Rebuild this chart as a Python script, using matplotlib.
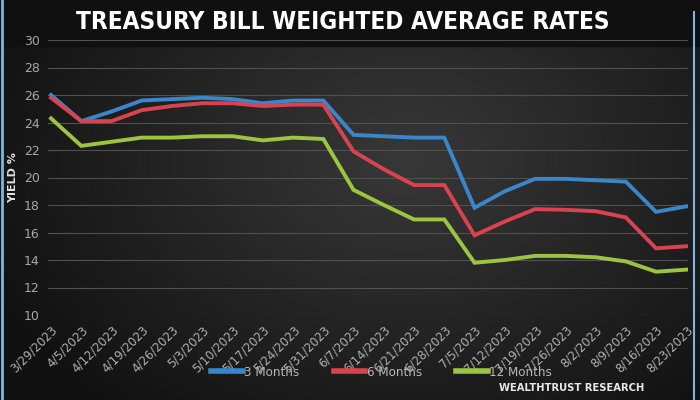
import matplotlib
matplotlib.use("Agg")
import matplotlib.pyplot as plt
import numpy as np
from matplotlib.lines import Line2D

dates = ["3/29/2023", "4/5/2023", "4/12/2023", "4/19/2023", "4/26/2023", "5/3/2023",
         "5/10/2023", "5/17/2023", "5/24/2023", "5/31/2023", "6/7/2023", "6/14/2023",
         "6/21/2023", "6/28/2023", "7/5/2023", "7/12/2023", "7/19/2023", "7/26/2023",
         "8/2/2023", "8/9/2023", "8/16/2023", "8/23/2023"]
m3 = [26.0, 24.1, 24.8, 25.6, 25.7, 25.8, 25.7, 25.4, 25.6, 25.6, 23.1, 23.0,
      22.9, 22.9, 17.8, 19.0, 19.9, 19.9, 19.8, 19.7, 17.5, 17.9]
m6 = [25.8, 24.1, 24.1, 24.9, 25.2, 25.4, 25.4, 25.2, 25.3, 25.3, 21.9, 20.6,
      19.45, 19.45, 15.8, 16.8, 17.7, 17.65, 17.55, 17.1, 14.85, 15.0]
m12 = [24.3, 22.3, 22.6, 22.9, 22.9, 23.0, 23.0, 22.7, 22.9, 22.8, 19.1, 18.0,
       16.95, 16.95, 13.8, 14.0, 14.3, 14.3, 14.2, 13.9, 13.15, 13.3]
yticks = [10, 12, 14, 16, 18, 20, 22, 24, 26, 28, 30]

c3, c6, c12 = "#3a86c8", "#d8434f", "#9cc53f"

fig = plt.figure(figsize=(7, 4), dpi=100)
fig.patch.set_facecolor("#1a1a1a")

# background gradient
bg = fig.add_axes([0, 0, 1, 1], zorder=0)
yy, xx = np.mgrid[0:1:200j, 0:1:350j]
r = np.sqrt(((xx - 0.58) / 0.55) ** 2 + ((yy - 0.6) / 0.7) ** 2)
val = np.clip(0.22 - 0.13 * r, 0.07, 0.24)
bg.imshow(np.dstack([val, val, val]), extent=[0, 1, 0, 1], aspect="auto", origin="lower")
bg.add_patch(plt.Rectangle((0, 0.885), 1, 0.115, color="#101010", transform=bg.transAxes))
bg.set_xlim(0, 1); bg.set_ylim(0, 1)
bg.axis("off")

ax = fig.add_axes([0.0686, 0.2125, 0.914, 0.6875], zorder=1)
ax.set_facecolor("none")
x = np.arange(len(dates))
ax.plot(x, m3, color=c3, lw=2.8, solid_joinstyle="miter")
ax.plot(x, m6, color=c6, lw=2.8, solid_joinstyle="miter")
ax.plot(x, m12, color=c12, lw=2.8, solid_joinstyle="miter")
ax.set_ylim(10, 30)
ax.set_xlim(-0.1, 21.05)
ax.set_yticks(yticks)
ax.set_yticklabels([str(v) for v in yticks], color="#a8a8a8", fontsize=9)
ax.set_xticks(x)
ax.set_xticklabels(dates, rotation=45, ha="right", rotation_mode="anchor",
                   color="#b0b0b0", fontsize=8.5)
ax.grid(axis="y", color="#505050", lw=0.8)
ax.tick_params(length=0, pad=6)
for s in ax.spines.values():
    s.set_visible(False)
ax.set_ylabel("YIELD %", color="#e0e0e0", fontsize=8, fontweight="bold", labelpad=4)

fig.text(0.49, 0.945, "TREASURY BILL WEIGHTED AVERAGE RATES", ha="center", va="center",
         color="white", fontsize=17.5, fontweight="bold", family="DejaVu Sans",
         fontstretch="condensed")

handles = [Line2D([], [], color=c3, lw=4), Line2D([], [], color=c6, lw=4),
           Line2D([], [], color=c12, lw=4)]
leg = fig.legend(handles, ["3 Months", "6 Months", "12 Months"], loc="center",
                 bbox_to_anchor=(0.545, 0.07), ncol=3, frameon=False,
                 prop={"size": 9.5, "stretch": "condensed"},
                 handlelength=2.4, handletextpad=0.1, columnspacing=2.6)
for t in leg.get_texts():
    t.set_color("#b8b8b8")

fig.text(0.817, 0.03, "WEALTHTRUST RESEARCH", ha="center", va="center",
         color="#e8e8e8", fontsize=7.2, fontweight="bold")

# window border
fig.add_artist(Line2D([0.003, 0.003], [0, 1], color="#7fb6e0", lw=2, transform=fig.transFigure))
fig.add_artist(Line2D([0.992, 0.992], [0, 0.97], color="#7fb6e0", lw=1.5, transform=fig.transFigure))

fig.savefig("out.png", dpi=100, facecolor=fig.get_facecolor())
